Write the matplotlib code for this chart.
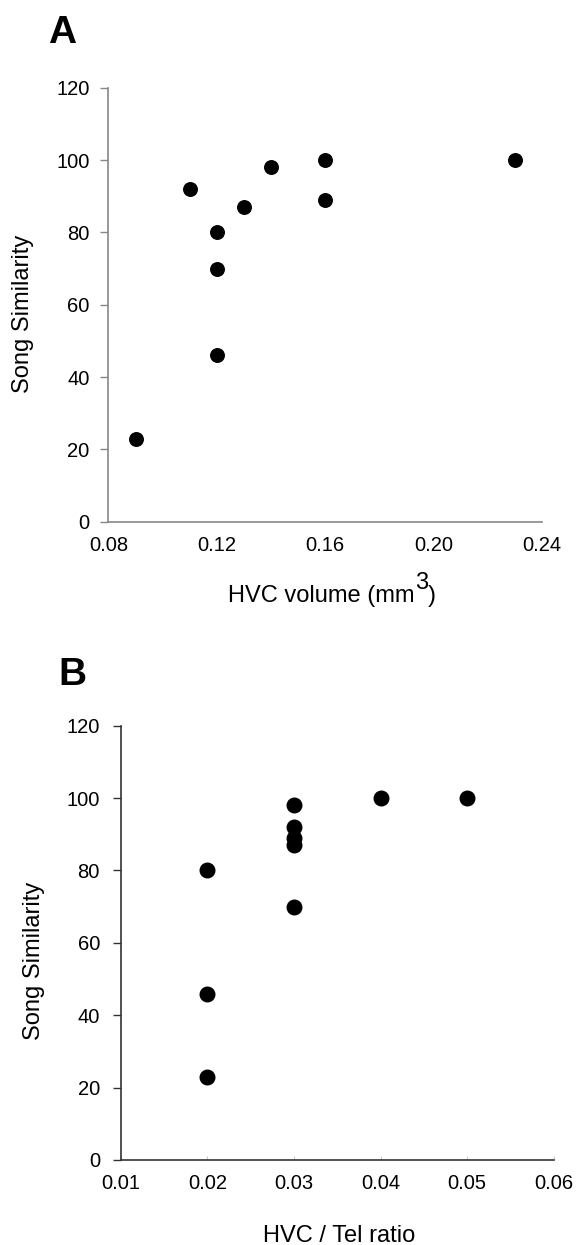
import matplotlib.pyplot as plt

plt.rcParams['font.family'] = ['Liberation Sans', 'DejaVu Sans']

# Panel A: HVC volume vs song similarity
hvc_volume = [0.09, 0.11, 0.12, 0.12, 0.12, 0.13, 0.14, 0.16, 0.16, 0.23]
similarity_a = [23, 92, 80, 70, 46, 87, 98, 100, 89, 100]

# Panel B: HVC / Tel ratio vs song similarity
hvc_tel_ratio = [0.02, 0.02, 0.02, 0.03, 0.03, 0.03, 0.03, 0.03, 0.04, 0.05]
similarity_b = [80, 46, 23, 98, 92, 89, 87, 70, 100, 100]

xticks_a = [0.08, 0.12, 0.16, 0.20, 0.24]
xticks_b = [0.01, 0.02, 0.03, 0.04, 0.05, 0.06]
yticks = [0, 20, 40, 60, 80, 100, 120]

fig = plt.figure(figsize=(5.77, 12.45), dpi=100)

ax_a = fig.add_axes([0.188, 0.581, 0.7513, 0.3484])
ax_b = fig.add_axes([0.2092, 0.0683, 0.7505, 0.3488])


def style_axes(ax, color, ypad, xtick_len):
    for side in ['top', 'right']:
        ax.spines[side].set_visible(False)
    for side in ['left', 'bottom']:
        ax.spines[side].set_color(color)
        ax.spines[side].set_linewidth(1.2)
    ax.tick_params(axis='y', length=6, width=1, color=color, labelsize=14.5, pad=ypad)
    ax.tick_params(axis='x', length=xtick_len, width=0.6, direction='in',
                   color='#bbbbbb', labelsize=14.5, pad=10)


# panel A
ax_a.scatter(hvc_volume, similarity_a, s=95, color='black', zorder=3)
ax_a.set_xlim(0.08, 0.24)
ax_a.set_ylim(0, 120)
ax_a.set_xticks(xticks_a)
ax_a.set_xticklabels(['%.2f' % t for t in xticks_a])
ax_a.set_yticks(yticks)
style_axes(ax_a, '#888888', 7.5, 0)
fig.text(0.039, 0.7482, 'Song Similarity', fontsize=17, rotation=90,
         ha='center', va='center')

# x label with a full-size raised "3", built from three pieces
W, H = fig.get_size_inches() * fig.dpi
renderer = fig.canvas.get_renderer()
pieces = [('HVC volume (mm', 0), ('3', 13), (')', 0)]
texts = [fig.text(0, 0, s, fontsize=17, va='baseline') for s, _ in pieces]
widths = [t.get_window_extent(renderer).width for t in texts]
x0 = 332 - sum(widths) / 2
for t, (s, lift), w in zip(texts, pieces, widths):
    t.set_position((x0 / W, (H - 602 + lift) / H))
    x0 += w
fig.text(0.0832, 0.9655, 'A', fontsize=28, fontweight='bold', va='baseline')

# panel B
ax_b.scatter(hvc_tel_ratio, similarity_b, s=110, color='black', zorder=3)
ax_b.set_xlim(0.01, 0.06)
ax_b.set_ylim(0, 120)
ax_b.set_xticks(xticks_b)
ax_b.set_xticklabels(['%.2f' % t for t in xticks_b])
ax_b.set_yticks(yticks)
style_axes(ax_b, '#333333', 9, 3)
fig.text(0.0589, 0.2281, 'Song Similarity', fontsize=17, rotation=90,
         ha='center', va='center')
fig.text(0.5875, 0.0028, 'HVC / Tel ratio', fontsize=17,
         ha='center', va='baseline')
fig.text(0.1005, 0.4498, 'B', fontsize=28, fontweight='bold', va='baseline')

fig.savefig('out.png', dpi=100, facecolor='white')
